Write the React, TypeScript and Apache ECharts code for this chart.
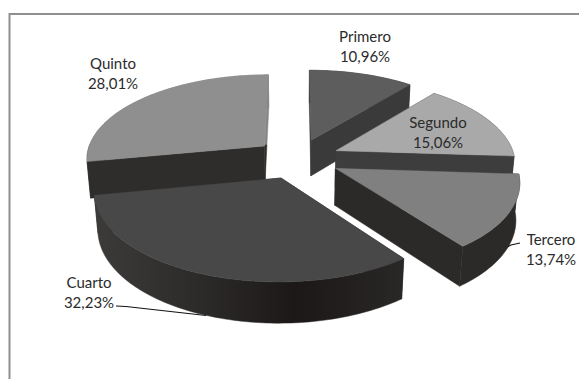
import React, { useEffect, useRef } from "react";
import * as echarts from "echarts";

const categories = ["Primero", "Segundo", "Tercero", "Cuarto", "Quinto"];
const shares = [10.96, 15.06, 13.74, 32.23, 28.01];
const shareLabels = ["10,96%", "15,06%", "13,74%", "32,23%", "28,01%"];
const topColors = ["#5d5d5d", "#a9a9a9", "#808080", "#484848", "#8f8f8f"];
const wallColors = ["#3a3a3a", "#3e3d3d", "#2c2a29", "#2b2928", "#2f2d2c"];
// Slices are painted back to front.
const paintOrder = [0, 4, 1, 2, 3];
const labelAnchors: [number, number][] = [
  [365, 46],
  [438, 132],
  [551, 249],
  [89, 292],
  [113, 73],
];

// Perspective view of the pie.
const VIEW = {
  cx: 297,
  cy: 158.6,
  scale: 179,
  tilt: (28 * Math.PI) / 180,
  dist: 6.5,
  explode: 0.24,
  depth: 0.235,
};

function project(x: number, y: number, z: number): number[] {
  const s = Math.sin(VIEW.tilt);
  const c = Math.cos(VIEW.tilt);
  const k = 1 + (y * c - z * s) / VIEW.dist;
  const up = y * s + z * c;
  return [VIEW.cx + (VIEW.scale * x) / k, VIEW.cy - (VIEW.scale * up) / k];
}

function sliceAngles(index: number): [number, number] {
  const total = shares.reduce((a, b) => a + b, 0);
  const before = shares.slice(0, index).reduce((a, b) => a + b, 0);
  return [
    (before / total) * Math.PI * 2,
    ((before + shares[index]) / total) * Math.PI * 2,
  ];
}

function renderSlice(_params: any, api: any) {
  const index = paintOrder[api.value(0)];
  const [a0, a1] = sliceAngles(index);
  const mid = (a0 + a1) / 2;
  const ox = VIEW.explode * Math.sin(mid);
  const oy = VIEW.explode * Math.cos(mid);
  const steps = Math.max(2, Math.round((a1 - a0) / 0.02));
  const rim: number[][] = [];
  for (let i = 0; i <= steps; i++) {
    const a = a0 + ((a1 - a0) * i) / steps;
    rim.push([ox + Math.sin(a), oy + Math.cos(a)]);
  }
  const top = (p: number[]) => project(p[0], p[1], 0);
  const low = (p: number[]) => project(p[0], p[1], -VIEW.depth);
  const apex = [ox, oy];
  const first = rim[0];
  const last = rim[rim.length - 1];
  const poly = (points: number[][], fill: any) => ({
    type: "polygon",
    shape: { points },
    style: { fill, stroke: fill, lineWidth: 0.5 },
  });
  const rimTop = rim.map(top);
  const rimLow = rim.map(low);
  // The far end of the last slice catches the light near its upper edge.
  const closingFill =
    index === 4
      ? new echarts.graphic.LinearGradient(
          0, 74, 0, 182,
          [
            { offset: 0, color: "#858585" },
            { offset: 0.65, color: "#858585" },
            { offset: 0.66, color: wallColors[index] },
            { offset: 1, color: wallColors[index] },
          ],
          true
        )
      : wallColors[index];
  const outerFill =
    index === 3
      ? new echarts.graphic.LinearGradient(
          95, 0, 405, 0,
          [
            { offset: 0, color: "#3d3b3a" },
            { offset: 0.35, color: "#2c2a29" },
            { offset: 0.65, color: "#1b1817" },
            { offset: 1, color: "#2a2827" },
          ],
          true
        )
      : closingFill;
  const children: any[] = [
    poly([top(apex), top(first), low(first), low(apex)], wallColors[index]),
    poly([top(apex), top(last), low(last), low(apex)], closingFill),
    poly(rimTop.concat(rimLow.slice().reverse()), outerFill),
    poly([top(apex), ...rimTop], topColors[index]),
  ];
  return { type: "group", children };
}

export default function App() {
  const ref = useRef<HTMLDivElement>(null);
  useEffect(() => {
    const chart = echarts.init(ref.current!, null, { renderer: "svg" });
    const textColor = "#2b2b2b";
    chart.setOption({
      animation: false,
      backgroundColor: "#ffffff",
      series: [
        {
          type: "custom",
          coordinateSystem: "none",
          silent: true,
          clip: false,
          z: 10,
          data: paintOrder.map((_, i) => [i, shares[paintOrder[i]]]),
          renderItem: renderSlice,
        },
      ],
      graphic: [
        {
          type: "polyline",
          z: 1,
          shape: { points: [[9.5, 379], [9.5, 14], [579, 14]] },
          style: { stroke: "#8f8f8f", lineWidth: 2, fill: "none" },
        },
        {
          type: "polyline",
          z: 1,
          shape: { points: [[116, 306], [126, 306.5], [206, 315.5]] },
          style: { stroke: "#111111", lineWidth: 1.2, fill: "none" },
        },
        {
          type: "polyline",
          z: 1,
          shape: { points: [[520, 243], [511, 245], [502, 250]] },
          style: { stroke: "#111111", lineWidth: 1.2, fill: "none" },
        },
        ...categories.map((name, i) => ({
          type: "text",
          z: 30,
          x: labelAnchors[i][0],
          y: labelAnchors[i][1],
          style: {
            text: `${name}\n${shareLabels[i]}`,
            font: "15px Lato",
            lineHeight: 20.5,
            fill: textColor,
            textAlign: "center",
            textVerticalAlign: "middle",
          },
        })),
      ],
    });
    return () => chart.dispose();
  }, []);
  return (
    <div
      ref={ref}
      style={{ position: "fixed", left: 0, top: 0, width: 579, height: 379 }}
    />
  );
}
